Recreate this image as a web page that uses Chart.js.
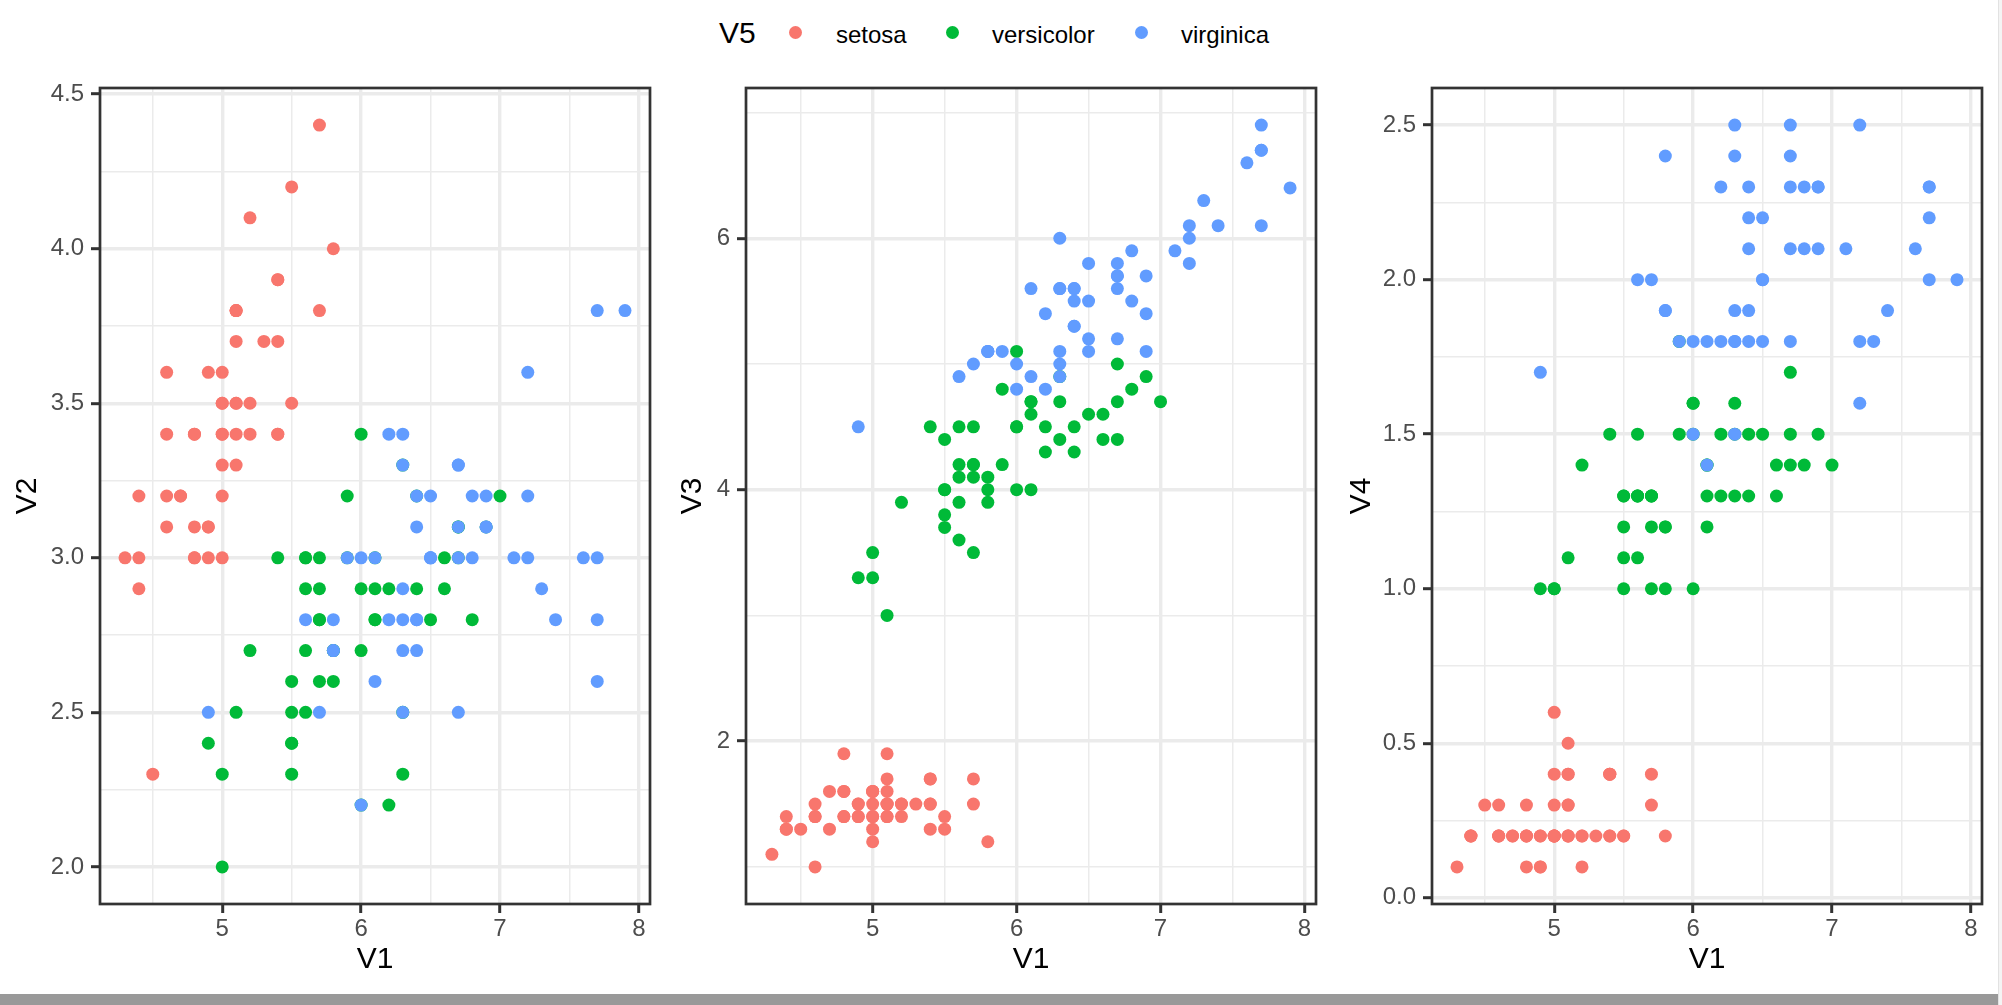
<!DOCTYPE html>
<html><head><meta charset="utf-8">
<script src="https://cdn.jsdelivr.net/npm/chart.js@4.4.1/dist/chart.umd.min.js"></script>
<style>
html,body{margin:0;padding:0;width:2002px;height:1005px;overflow:hidden;background:#fff;font-family:'Liberation Sans',Arial,sans-serif;}
canvas{position:absolute;top:0;}
.lg{position:absolute;line-height:1;white-space:nowrap;color:#000;}
.dot{position:absolute;width:13px;height:13px;border-radius:50%;}
#bar{position:absolute;left:0;top:994px;width:1998px;height:11px;background:#999999;}
#side{position:absolute;left:1998px;top:0;width:4px;height:1005px;background:#f4f4f4;border-left:1px solid #e2e2e2;box-sizing:border-box;}
</style></head><body>
<div class="lg" style="left:719px;top:18px;font-size:30px;">V5</div>
<div class="dot" style="left:789px;top:26px;background:#F8766D;"></div>
<div class="lg" style="left:836px;top:23px;font-size:24px;">setosa</div>
<div class="dot" style="left:946px;top:26px;background:#00BA38;"></div>
<div class="lg" style="left:992px;top:23px;font-size:24px;">versicolor</div>
<div class="dot" style="left:1135px;top:26px;background:#619CFF;"></div>
<div class="lg" style="left:1181px;top:23px;font-size:24px;">virginica</div>
<canvas id="c1" width="680" height="994" style="left:0px"></canvas>
<canvas id="c2" width="680" height="994" style="left:665px"></canvas>
<canvas id="c3" width="664" height="994" style="left:1334px"></canvas>
<div id="bar"></div><div id="side"></div>
<script>
// ---- data (iris) ----
const species = ['setosa','versicolor','virginica'];
const colors = ['#F8766D','#00BA38','#619CFF'];

const setosaV1 = [5.1,4.9,4.7,4.6,5.0,5.4,4.6,5.0,4.4,4.9,5.4,4.8,4.8,4.3,5.8,5.7,5.4,5.1,5.7,5.1,5.4,5.1,4.6,5.1,4.8,5.0,5.0,5.2,5.2,4.7,4.8,5.4,5.2,5.5,4.9,5.0,5.5,4.9,4.4,5.1,5.0,4.5,4.4,5.0,5.1,4.8,5.1,4.6,5.3,5.0];
const setosaV2 = [3.5,3.0,3.2,3.1,3.6,3.9,3.4,3.4,2.9,3.1,3.7,3.4,3.0,3.0,4.0,4.4,3.9,3.5,3.8,3.8,3.4,3.7,3.6,3.3,3.4,3.0,3.4,3.5,3.4,3.2,3.1,3.4,4.1,4.2,3.1,3.2,3.5,3.6,3.0,3.4,3.5,2.3,3.2,3.5,3.8,3.0,3.8,3.2,3.7,3.3];
const setosaV3 = [1.4,1.4,1.3,1.5,1.4,1.7,1.4,1.5,1.4,1.5,1.5,1.6,1.4,1.1,1.2,1.5,1.3,1.4,1.7,1.5,1.7,1.5,1.0,1.7,1.9,1.6,1.6,1.5,1.4,1.6,1.6,1.5,1.5,1.4,1.5,1.2,1.3,1.4,1.3,1.5,1.3,1.3,1.3,1.6,1.9,1.4,1.6,1.4,1.5,1.4];
const setosaV4 = [0.2,0.2,0.2,0.2,0.2,0.4,0.3,0.2,0.2,0.1,0.2,0.2,0.1,0.1,0.2,0.4,0.4,0.3,0.3,0.3,0.2,0.4,0.2,0.5,0.2,0.2,0.4,0.2,0.2,0.2,0.2,0.4,0.1,0.2,0.2,0.2,0.2,0.1,0.2,0.2,0.3,0.3,0.2,0.6,0.4,0.3,0.2,0.2,0.2,0.2];

const versicolorV1 = [7.0,6.4,6.9,5.5,6.5,5.7,6.3,4.9,6.6,5.2,5.0,5.9,6.0,6.1,5.6,6.7,5.6,5.8,6.2,5.6,5.9,6.1,6.3,6.1,6.4,6.6,6.8,6.7,6.0,5.7,5.5,5.5,5.8,6.0,5.4,6.0,6.7,6.3,5.6,5.5,5.5,6.1,5.8,5.0,5.6,5.7,5.7,6.2,5.1,5.7];
const versicolorV2 = [3.2,3.2,3.1,2.3,2.8,2.8,3.3,2.4,2.9,2.7,2.0,3.0,2.2,2.9,2.9,3.1,3.0,2.7,2.2,2.5,3.2,2.8,2.5,2.8,2.9,3.0,2.8,3.0,2.9,2.6,2.4,2.4,2.7,2.7,3.0,3.4,3.1,2.3,3.0,2.5,2.6,3.0,2.6,2.3,2.7,3.0,2.9,2.9,2.5,2.8];
const versicolorV3 = [4.7,4.5,4.9,4.0,4.6,4.5,4.7,3.3,4.6,3.9,3.5,4.2,4.0,4.7,3.6,4.4,4.5,4.1,4.5,3.9,4.8,4.0,4.9,4.7,4.3,4.4,4.8,5.0,4.5,3.5,3.8,3.7,3.9,5.1,4.5,4.5,4.7,4.4,4.1,4.0,4.4,4.6,4.0,3.3,4.2,4.2,4.2,4.3,3.0,4.1];
const versicolorV4 = [1.4,1.5,1.5,1.3,1.5,1.3,1.6,1.0,1.3,1.4,1.0,1.5,1.0,1.4,1.3,1.4,1.5,1.0,1.5,1.1,1.8,1.3,1.5,1.2,1.3,1.4,1.4,1.7,1.5,1.0,1.1,1.0,1.2,1.6,1.5,1.6,1.5,1.3,1.3,1.3,1.2,1.4,1.2,1.0,1.3,1.2,1.3,1.3,1.1,1.3];

const virginicaV1 = [6.3,5.8,7.1,6.3,6.5,7.6,4.9,7.3,6.7,7.2,6.5,6.4,6.8,5.7,5.8,6.4,6.5,7.7,7.7,6.0,6.9,5.6,7.7,6.3,6.7,7.2,6.2,6.1,6.4,7.2,7.4,7.9,6.4,6.3,6.1,7.7,6.3,6.4,6.0,6.9,6.7,6.9,5.8,6.8,6.7,6.7,6.3,6.5,6.2,5.9];
const virginicaV2 = [3.3,2.7,3.0,2.9,3.0,3.0,2.5,2.9,2.5,3.6,3.2,2.7,3.0,2.5,2.8,3.2,3.0,3.8,2.6,2.2,3.2,2.8,2.8,2.7,3.3,3.2,2.8,3.0,2.8,3.0,2.8,3.8,2.8,2.8,2.6,3.0,3.4,3.1,3.0,3.1,3.1,3.1,2.7,3.2,3.3,3.0,2.5,3.0,3.4,3.0];
const virginicaV3 = [6.0,5.1,5.9,5.6,5.8,6.6,4.5,6.3,5.8,6.1,5.1,5.3,5.5,5.0,5.1,5.3,5.5,6.7,6.9,5.0,5.7,4.9,6.7,4.9,5.7,6.0,4.8,4.9,5.6,5.8,6.1,6.4,5.6,5.1,5.6,6.1,5.6,5.5,4.8,5.4,5.6,5.1,5.1,5.9,5.7,5.2,5.0,5.2,5.4,5.1];
const virginicaV4 = [2.5,1.9,2.1,1.8,2.2,2.1,1.7,1.8,1.8,2.5,2.0,1.9,2.1,2.0,2.4,2.3,1.8,2.2,2.3,1.5,2.3,2.0,2.0,1.8,2.1,1.8,1.8,1.8,2.1,1.6,1.9,2.0,2.2,1.5,1.4,2.3,2.4,1.8,1.8,2.1,2.4,2.3,1.9,2.3,2.5,2.3,1.9,2.0,2.3,1.8];

// ---- tick labels ----
const xMajor = [5,6,7,8];
const xLabels = ['5','6','7','8'];
const xMinor = [4.5,5.5,6.5,7.5];
const y2Major = [2.0,2.5,3.0,3.5,4.0,4.5];
const y2Labels = ['2.0','2.5','3.0','3.5','4.0','4.5'];
const y2Minor = [2.25,2.75,3.25,3.75,4.25];
const y3Major = [2,4,6];
const y3Labels = ['2','4','6'];
const y3Minor = [1,3,5,7];
const y4Major = [0.0,0.5,1.0,1.5,2.0,2.5];
const y4Labels = ['0.0','0.5','1.0','1.5','2.0','2.5'];
const y4Minor = [0.25,0.75,1.25,1.75,2.25];

const V1 = [setosaV1, versicolorV1, virginicaV1];
const V2 = [setosaV2, versicolorV2, virginicaV2];
const V3 = [setosaV3, versicolorV3, virginicaV3];
const V4 = [setosaV4, versicolorV4, virginicaV4];

const FONT = "'Liberation Sans', Arial, sans-serif";

function expanded(groups){
  const all = [].concat(...groups);
  const mn = Math.min(...all), mx = Math.max(...all), r = mx - mn;
  return [mn - 0.05*r, mx + 0.05*r];
}

function axis(groups, major, labels, minor, isX, title, fixedSize){
  const [mn, mx] = expanded(groups);
  return {
    type:'linear', position: isX ? 'bottom' : 'left', min: mn, max: mx,
    afterBuildTicks: s => { s.ticks = major.concat(minor).sort((a,b)=>a-b).map(v=>({value:v})); },
    afterFit: s => { if (isX) s.height = fixedSize; else s.width = fixedSize; },
    ticks: {
      autoSkip:false, maxRotation:0, minRotation:0, color:'#4D4D4D',
      font:{family:FONT, size:24}, padding: isX ? 2 : 7,
      callback: v => { const i = major.indexOf(v); return i >= 0 ? labels[i] : ''; }
    },
    grid: {
      color:'#EBEBEB',
      lineWidth: c => (c.tick && major.includes(c.tick.value)) ? 3.4 : 1.5,
      drawTicks:true, tickLength:9, tickWidth:3,
      tickColor: c => (c.tick && major.includes(c.tick.value)) ? '#333333' : 'rgba(0,0,0,0)'
    },
    border: {display:false},
    title: {display:true, text:title, color:'#000', font:{family:FONT, size:30},
      padding: isX ? {top:0, bottom:6} : {top:10, bottom:0}}
  };
}

const borderPlugin = {
  id:'panelBorder',
  afterDatasetsDraw(chart){
    const {ctx, chartArea:a} = chart;
    ctx.save(); ctx.strokeStyle='#333333'; ctx.lineWidth=2.7;
    ctx.strokeRect(a.left, a.top, a.right-a.left, a.bottom-a.top);
    ctx.restore();
  }
};

function panel(id, Y, yMajor, yLabels, yMinor, yTitle, yWidth, rightPad){
  const datasets = species.map((sp, k) => ({
    label: sp,
    data: V1[k].map((x, i) => ({x: x, y: Y[k][i]})),
    backgroundColor: colors[k], borderWidth: 0, pointRadius: 6.5,
    order: 2 - k
  }));
  new Chart(document.getElementById(id), {
    type:'scatter',
    data:{datasets},
    options:{
      responsive:false, animation:false, devicePixelRatio:1, events:[],
      layout:{padding:{left:0, right:rightPad, top:88, bottom:10}},
      plugins:{legend:{display:false}, tooltip:{enabled:false}},
      scales:{
        x: axis(V1, xMajor, xLabels, xMinor, true, 'V1', 80),
        y: axis(Y, yMajor, yLabels, yMinor, false, yTitle, yWidth)
      }
    },
    plugins:[borderPlugin]
  });
}

panel('c1', V2, y2Major, y2Labels, y2Minor, 'V2', 100, 30);
panel('c2', V3, y3Major, y3Labels, y3Minor, 'V3', 81, 29);
panel('c3', V4, y4Major, y4Labels, y4Minor, 'V4', 98, 16);
</script>
</body></html>
